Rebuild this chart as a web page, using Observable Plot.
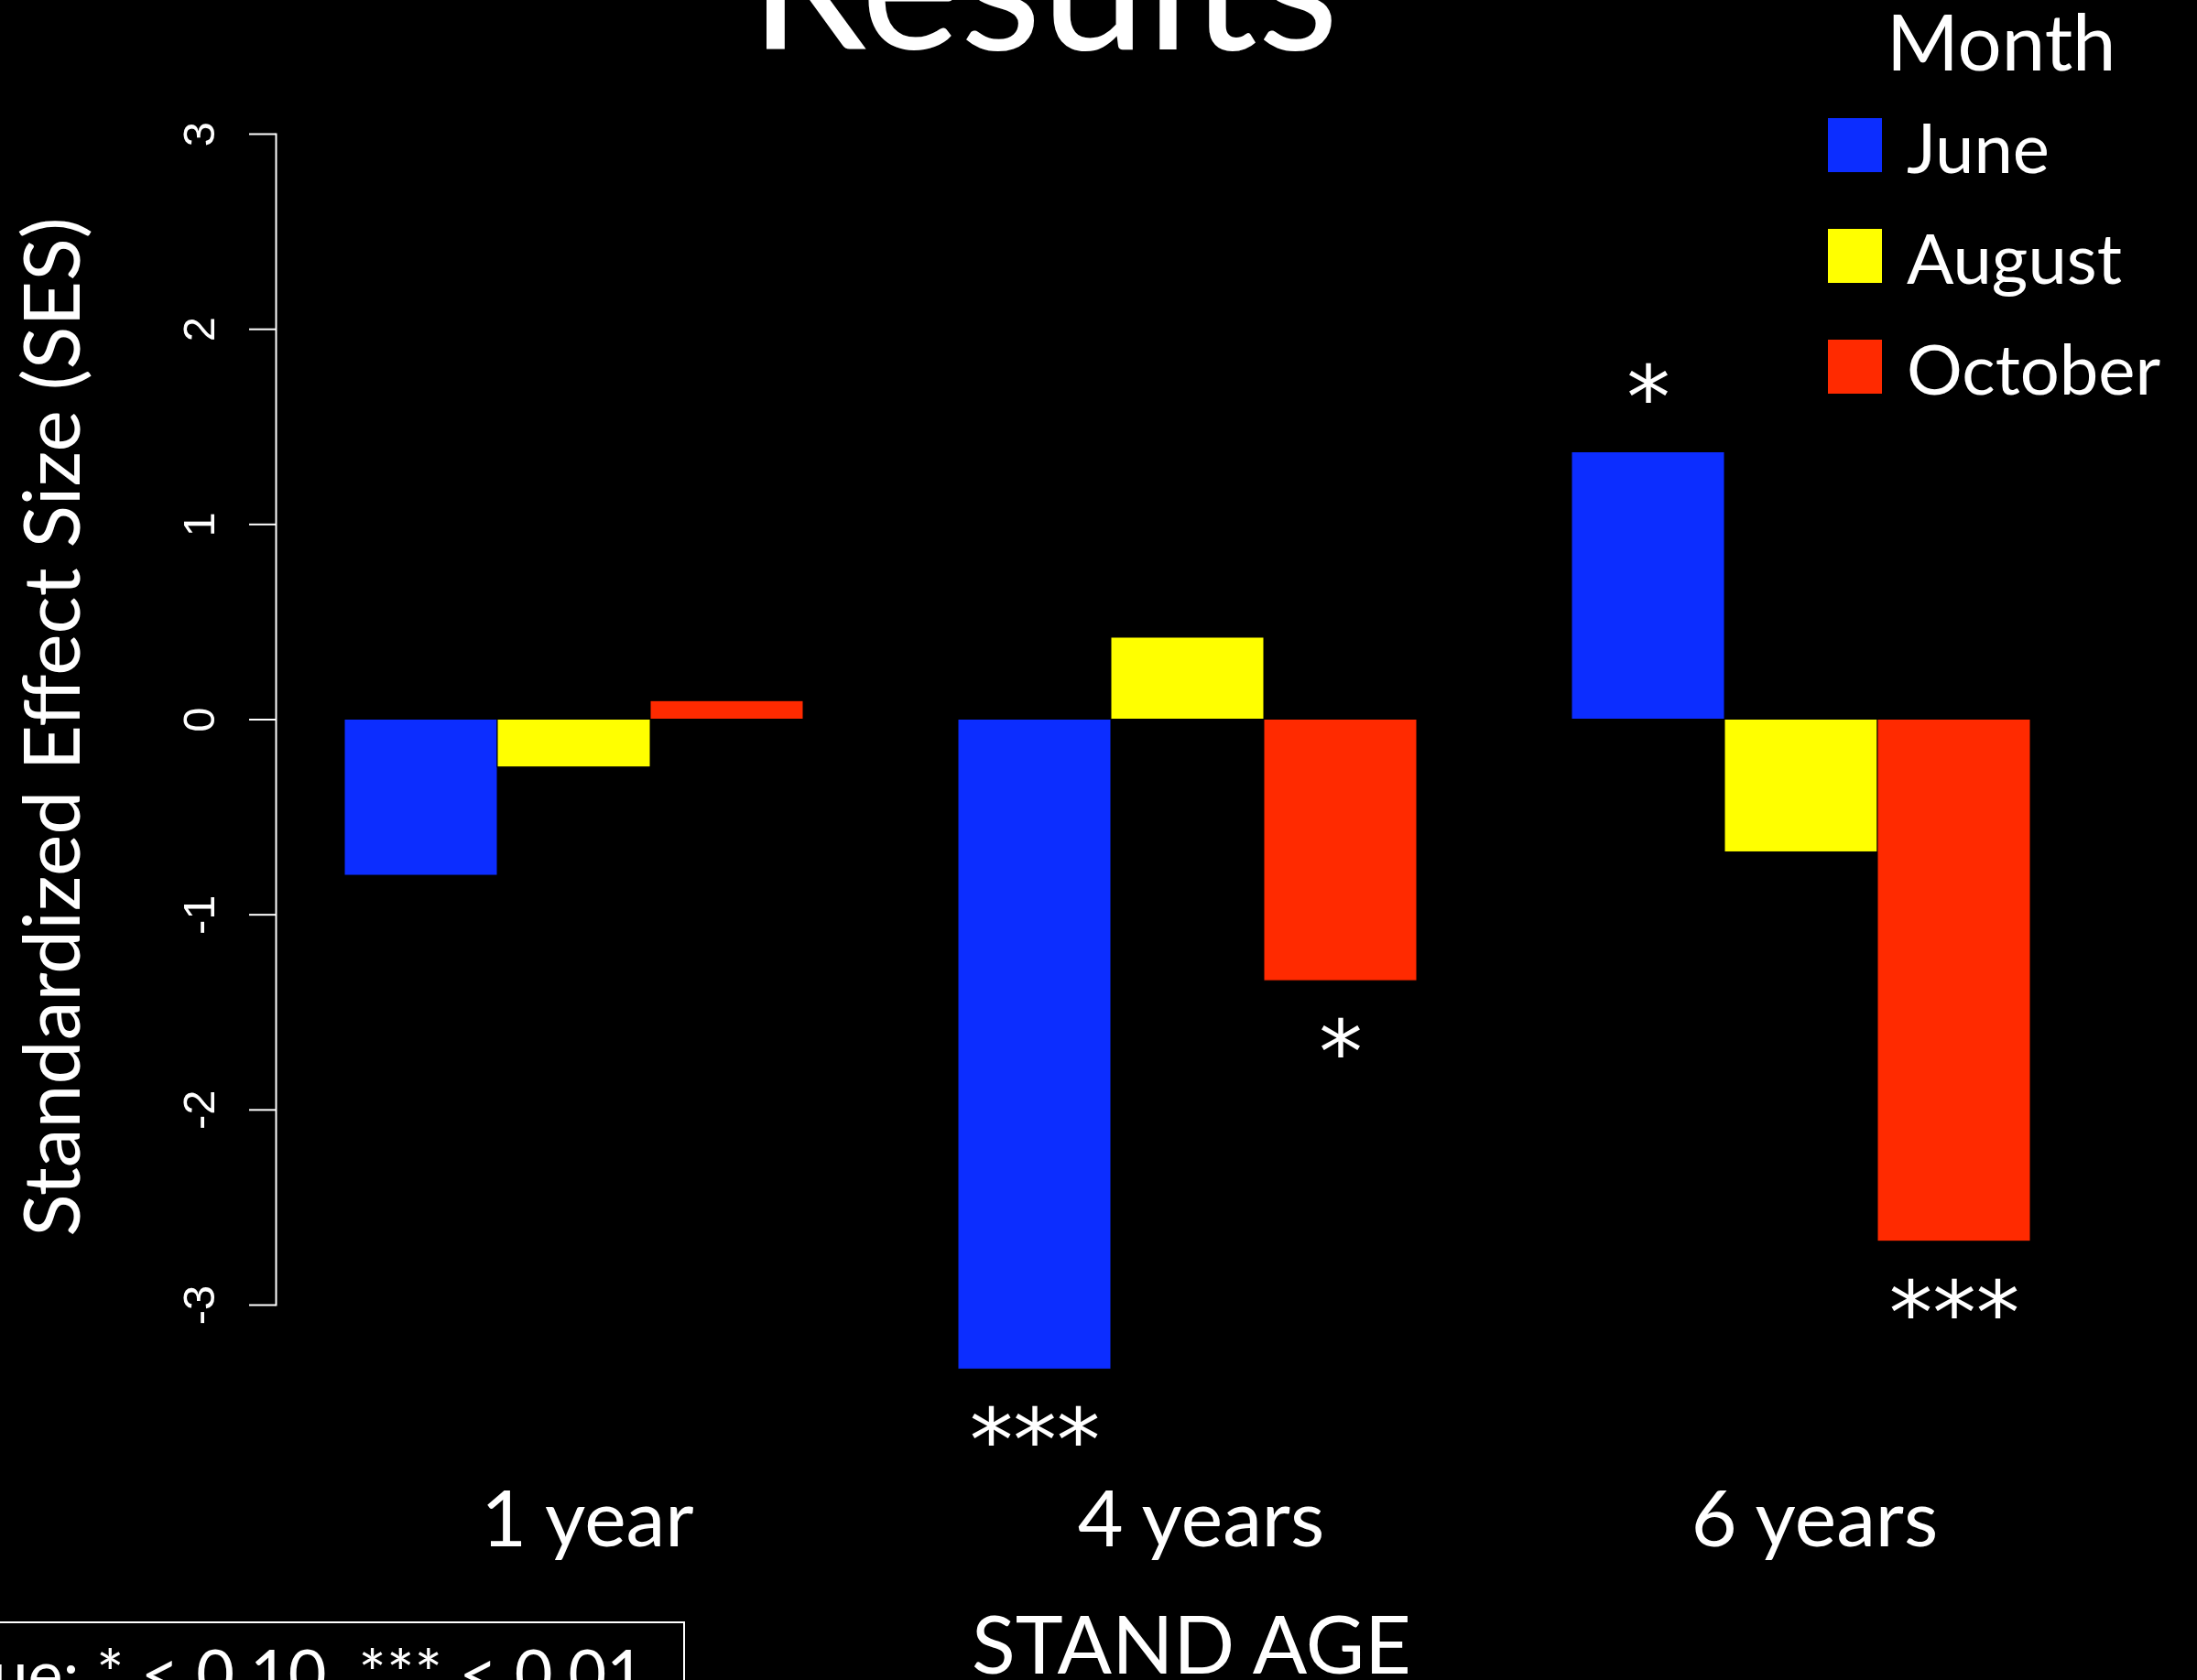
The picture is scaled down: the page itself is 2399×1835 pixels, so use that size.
<!DOCTYPE html>
<html>
<head>
<meta charset="utf-8">
<script src="https://cdn.jsdelivr.net/npm/d3@7"></script>
<script src="https://cdn.jsdelivr.net/npm/@observablehq/plot@0.6"></script>
<style>
  html, body { margin: 0; padding: 0; background: #000; }
  #chart { width: 2399px; height: 1835px; overflow: hidden; background: #000; }
</style>
</head>
<body>
<div id="chart"></div>
<script>
// ---- data ----
const standAges = ["1 year", "4 years", "6 years"];
const months = ["June", "August", "October"];
const juneSES = [-0.80, -3.33, 1.37];
const augustSES = [-0.245, 0.42, -0.68];
const octoberSES = [0.095, -1.34, -2.675];
const juneSig = ["", "***", "*"];
const augustSig = ["", "", ""];
const octoberSig = ["", "*", "***"];
const yTicks = [-3, -2, -1, 0, 1, 2, 3];
const monthColors = ["#0c2dff", "#ffff00", "#ff2a00"];

const titleText = "Results";
const yLabel = "Standardized Effect Size (SES)";
const xLabel = "STAND AGE";
const legendTitle = "Month";
const captionText = "p-value: * < 0.10, *** < 0.01";

// table built from the arrays above
const seriesValues = [juneSES, augustSES, octoberSES];
const seriesSig = [juneSig, augustSig, octoberSig];
const rows = [];
standAges.forEach((age, i) => {
  months.forEach((month, j) => {
    rows.push({age, month, value: seriesValues[j][i], sig: seriesSig[j][i]});
  });
});

const mainFont = "Lato, 'Open Sans', 'Noto Sans', sans-serif";
const tickFont = "'Liberation Sans', Arial, Helvetica, sans-serif";
const starFont = "'DejaVu Sans', Lato, sans-serif";

const chart = Plot.plot({
  width: 2399,
  height: 1835,
  marginTop: 146,
  marginBottom: 410,
  marginLeft: 301,
  marginRight: 108,
  style: {background: "black", color: "white", fontFamily: mainFont},
  fx: {domain: standAges, paddingInner: 0.03, paddingOuter: 0, label: null},
  x: {domain: months, paddingInner: 0, paddingOuter: 0.44, axis: null},
  y: {domain: [-3, 3], label: null},
  color: {domain: months, range: monthColors},
  marks: [
    Plot.frame({anchor: "left", facetAnchor: "left", stroke: "white", strokeWidth: 2}),
    Plot.barY(rows, {fx: "age", x: "month", y: "value", fill: "month", stroke: "black", strokeWidth: 1}),
    Plot.text(rows.filter(d => d.sig && d.value < 0), {
      fx: "age", x: "month", y: "value", text: "sig",
      lineAnchor: "top", dy: 43, fontSize: 95, fill: "white", fontFamily: starFont
    }),
    Plot.text(rows.filter(d => d.sig && d.value >= 0), {
      fx: "age", x: "month", y: "value", text: "sig",
      lineAnchor: "bottom", dy: -27, fontSize: 95, fill: "white", fontFamily: starFont
    }),
    Plot.axisY({
      ticks: yTicks, tickSize: 29, tickPadding: 39, tickRotate: -90,
      tickFormat: d => String(d), fontSize: 49, fontFamily: tickFont,
      stroke: "white", strokeWidth: 2, label: null
    }),
    Plot.axisFx({anchor: "bottom", tickSize: 0, tickPadding: 202, dx: 15, fontSize: 86, fontFamily: mainFont, label: null})
  ]
});

document.getElementById("chart").appendChild(chart);

// ---- annotations: title, axis titles, legend, caption ----
const svg = d3.select(chart);
const color = chart.scale("color");

function addText(str, x, y, size, anchor = "start", extra = {}) {
  const t = svg.append("text")
    .attr("x", x).attr("y", y)
    .attr("fill", "white")
    .attr("font-family", mainFont)
    .attr("font-size", size)
    .attr("text-anchor", anchor)
    .text(str);
  for (const k in extra) t.attr(k, extra[k]);
  return t;
}

addText(titleText, 1140, 54, 205, "middle");
addText(xLabel, 1301, 1828, 88, "middle");
addText(yLabel, 0, 0, 86, "middle", {transform: "translate(87,794) rotate(-90)"});

// legend
addText(legendTitle, 2060, 77, 85, "start");
const legendRow = 121;
months.forEach((m, i) => {
  const top = 129 + i * legendRow;
  svg.append("rect")
    .attr("x", 1996).attr("y", top)
    .attr("width", 59).attr("height", 59)
    .attr("fill", color.apply(m));
  addText(m, 2082, top + 60, 76, "start");
});

// caption box (partly outside the picture, as in the reference)
svg.append("rect")
  .attr("x", -20).attr("y", 1772)
  .attr("width", 767).attr("height", 200)
  .attr("fill", "none").attr("stroke", "white").attr("stroke-width", 2);
addText(captionText, 704, 1854, 72, "end");
</script>
</body>
</html>
